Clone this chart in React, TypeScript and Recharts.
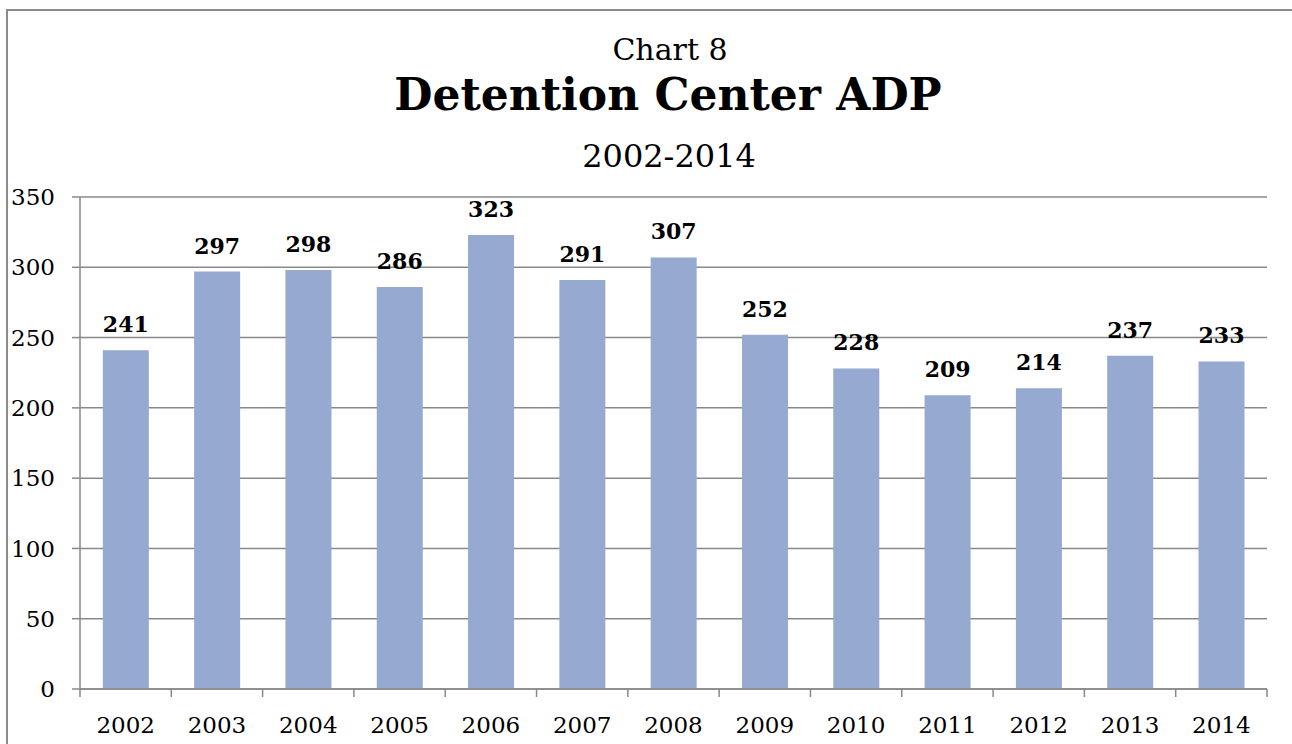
import { BarChart, Bar, XAxis, YAxis, CartesianGrid, LabelList } from "recharts";

// Chart 8 – Detention Center ADP, 2002-2014
const years = ["2002", "2003", "2004", "2005", "2006", "2007", "2008", "2009", "2010", "2011", "2012", "2013", "2014"];
const adp = [241, 297, 298, 286, 323, 291, 307, 252, 228, 209, 214, 237, 233];
const yTicks = [0, 50, 100, 150, 200, 250, 300, 350];

const data = years.map((year, i) => ({ year, adp: adp[i] }));

const FONT = "'DejaVu Serif', 'Liberation Serif', serif";
const GRAY = "#898989";
const BAR = "#95a9d1";

// tick text centred on the band, tick marks on the band edges (Excel style)
// eslint-disable-next-line @typescript-eslint/no-explicit-any
const XTick = (props: any) => {
  const { x, y, payload, index } = props;
  const half = payload?.offset || 45.65;
  const top = y - 10;
  return (
    <g>
      {index === 0 && <line x1={x - half} y1={top} x2={x - half} y2={top + 8} stroke={GRAY} strokeWidth={1.5} />}
      <line x1={x + half} y1={top} x2={x + half} y2={top + 8} stroke={GRAY} strokeWidth={1.5} />
      <text x={x} y={top + 44} textAnchor="middle" fontFamily={FONT} fontSize={23} fill="#000">
        {payload.value}
      </text>
    </g>
  );
};

export default function App() {
  return (
    <div style={{ position: "absolute", left: 0, top: 0, width: 1292, height: 744, overflow: "hidden", background: "#fff" }}>
      <div
        style={{
          position: "absolute",
          left: 6,
          top: 9,
          width: 1300,
          height: 800,
          border: "2px solid #8c8c8c",
          boxSizing: "border-box",
        }}
      />
      <svg width={1292} height={190} style={{ position: "absolute", left: 0, top: 0 }}>
        <text x={670} y={60} textAnchor="middle" fontFamily={FONT} fontSize={30}>
          Chart 8
        </text>
        <text x={668} y={110} textAnchor="middle" fontFamily={FONT} fontSize={44} fontWeight="bold">
          Detention Center ADP
        </text>
        <text x={669} y={167} textAnchor="middle" fontFamily={FONT} fontSize={32}>
          2002-2014
        </text>
      </svg>
      <div style={{ position: "absolute", left: 0, top: 0 }}>
        <BarChart
          width={1292}
          height={744}
          data={data}
          margin={{ top: 197, right: 25, bottom: 10, left: 0 }}
          barCategoryGap="25%"
        >
          <CartesianGrid vertical={false} stroke={GRAY} strokeWidth={1.5} />
          <YAxis
            domain={[0, 350]}
            ticks={yTicks}
            width={80}
            tickSize={8}
            tickMargin={17}
            axisLine={{ stroke: GRAY, strokeWidth: 1.5 }}
            tickLine={{ stroke: GRAY, strokeWidth: 1.5 }}
            tick={{ fontFamily: FONT, fontSize: 23, fill: "#000" }}
            interval={0}
          />
          <XAxis
            dataKey="year"
            height={45}
            tickSize={8}
            tickMargin={2}
            tickLine={false}
            axisLine={{ stroke: GRAY, strokeWidth: 1.5 }}
            tick={<XTick />}
            interval={0}
          />
          <Bar dataKey="adp" fill={BAR} isAnimationActive={false}>
            <LabelList
              dataKey="adp"
              position="top"
              offset={18}
              fontFamily={FONT}
              fontSize={22}
              fontWeight="bold"
              fill="#000"
            />
          </Bar>
        </BarChart>
      </div>
    </div>
  );
}
